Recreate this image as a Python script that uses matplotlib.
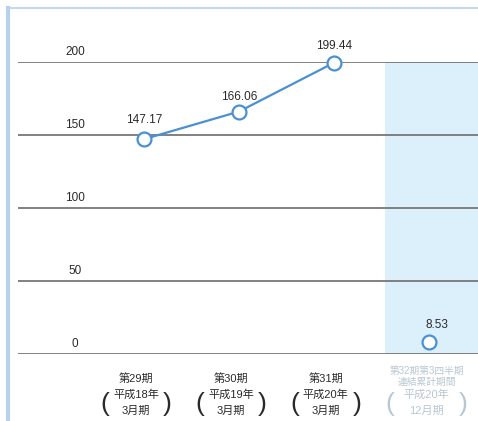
import matplotlib.pyplot as plt
from matplotlib.lines import Line2D

plt.rcParams['font.family'] = ['Liberation Sans', 'Noto Sans CJK JP', 'DejaVu Sans']

periods = ['第29期', '第30期', '第31期', '第32期第3四半期\n連結累計期間']
fiscal = ['平成18年', '平成19年', '平成20年', '平成20年']
months = ['3月期', '3月期', '3月期', '12月期']
values = [147.17, 166.06, 199.44, 8.53]
yticks = [0, 50, 100, 150, 200]

blue = '#4a90d2'
text_c = '#2a2a2a'
pale = '#b9c7d2'

fig = plt.figure(figsize=(4.78, 4.21), dpi=100)
W, H = 478, 421
ax = fig.add_axes([18 / W, (H - 354) / H, 460 / W, 292 / H])
ax.set_xlim(-1.33, 3.52)
ax.set_ylim(0, 200)
ax.axis('off')

# shaded band for the quarterly period
ax.axvspan(2.54, 3.52, color='#dcf0fb', zorder=0, lw=0)

for t in yticks:
    ax.axhline(t, color='#777777', lw=1.3, zorder=1)
    ax.annotate(str(t), xy=(-0.73, t), xytext=(0, 4), textcoords='offset pixels',
                ha='center', va='bottom', fontsize=8.5, color=text_c)

x = list(range(len(values)))
ax.plot(x[:3], values[:3], color=blue, lw=1.6, marker='o', ms=10,
        mfc='white', mec=blue, mew=1.6, zorder=3, clip_on=False)
ax.plot(x[3], values[3], color=blue, marker='o', ms=10,
        mfc='white', mec=blue, mew=1.6, zorder=3, clip_on=False)

offsets = [(0, 13), (0, 9), (0, 11), (8, 11)]
for xi, v, off in zip(x, values, offsets):
    ax.annotate(f'{v:.2f}', xy=(xi, v), xytext=off, textcoords='offset pixels',
                ha='center', va='bottom', fontsize=8.5, color=text_c)

# category labels below the axis
for i in range(len(periods)):
    c = pale if i == 3 else text_c
    cx = -8 if i < 3 else -2
    if i < 3:
        ax.annotate(periods[i], xy=(i, 0), xytext=(cx, -24), textcoords='offset pixels',
                    ha='center', va='center', fontsize=8, color=c, annotation_clip=False)
    else:
        ax.annotate(periods[i], xy=(i, 0), xytext=(cx, -22), textcoords='offset pixels',
                    ha='center', va='center', fontsize=7, color=c, linespacing=1.1,
                    annotation_clip=False)
    ax.annotate(fiscal[i], xy=(i, 0), xytext=(cx, -41),
                textcoords='offset pixels', ha='center', va='center', fontsize=8,
                color=c, annotation_clip=False)
    ax.annotate(months[i], xy=(i, 0), xytext=(cx, -57),
                textcoords='offset pixels', ha='center', va='center', fontsize=8,
                color=c, annotation_clip=False)
    half = 31 if i < 3 else 37
    for dx, ch in [(-half, '('), (half, ')')]:
        ax.annotate(ch, xy=(i, 0), xytext=(cx + dx, -50), textcoords='offset pixels',
                    ha='center', va='center', fontsize=19, color=c,
                    family='Liberation Sans', annotation_clip=False)

# outer frame lines (top and left)
fig.add_artist(Line2D([8 / W, 1], [1 - 8 / H, 1 - 8 / H], color='#c5d9ee', lw=1.5))
fig.add_artist(Line2D([8 / W, 8 / W], [0, 1 - 8 / H], color='#b8d0ea', lw=3))

fig.savefig('out.png', dpi=100)
